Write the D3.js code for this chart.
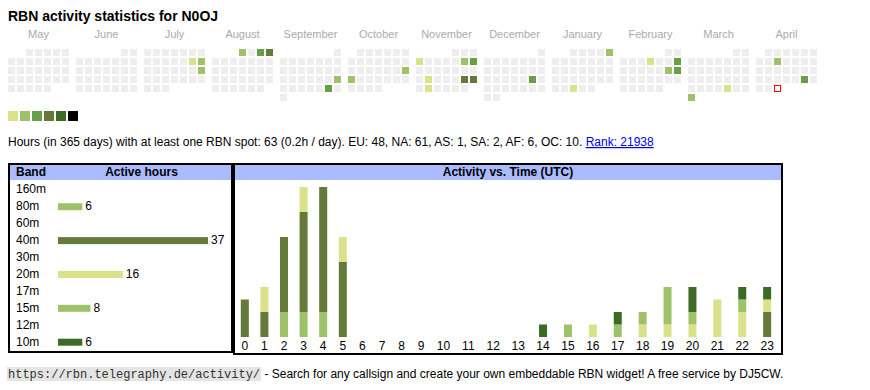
<!DOCTYPE html>
<html>
<head>
<meta charset="utf-8">
<script src="https://cdn.jsdelivr.net/npm/d3@7"></script>
<style>
  body { margin: 0; background: #fff; }
  text { font-family: "Liberation Sans", Arial, sans-serif; }
</style>
</head>
<body>
<script>
const callsign = 'N0OJ';
const monthNames = ['May', 'June', 'July', 'August', 'September', 'October',
  'November', 'December', 'January', 'February', 'March', 'April'];
const levelColors = ['#d9e28a', '#9dc26a', '#67a044', '#64793a', '#3b6b25', '#000000'];

// days with activity: [date, hours]
const activeDays = [
  ['2024-07-13', 1], ['2024-07-14', 2], ['2024-07-21', 2],
  ['2024-08-01', 2], ['2024-08-03', 3], ['2024-08-04', 4],
  ['2024-09-22', 2], ['2024-09-28', 3],
  ['2024-10-20', 2], ['2024-10-21', 2],
  ['2024-11-04', 1], ['2024-11-09', 2], ['2024-11-10', 3], ['2024-11-19', 1],
  ['2024-11-23', 4], ['2024-11-24', 4], ['2024-11-26', 1],
  ['2024-12-21', 3],
  ['2025-01-05', 2], ['2025-01-29', 1],
  ['2025-02-06', 1], ['2025-02-09', 3], ['2025-02-15', 2], ['2025-02-16', 3],
  ['2025-03-28', 1], ['2025-03-31', 2],
  ['2025-04-09', 2], ['2025-04-26', 3]
];
const firstDay = '2024-05-01';
const today = '2025-04-30';

const bands = ['160m', '80m', '60m', '40m', '30m', '20m', '17m', '15m', '12m', '10m'];
const bandHours = [0, 6, 0, 37, 0, 16, 0, 8, 0, 6];
const bandColors = ['#9dc26a', '#9dc26a', '#9dc26a', '#64793a', '#64793a', '#d9e28a',
  '#d9e28a', '#9dc26a', '#3b6b25', '#3b6b25'];

const hours = d3.range(24);
const hourly = {
  '80m': [0, 0, 2, 2, 2, 0, 0, 0, 0, 0, 0, 0, 0, 0, 0, 0, 0, 0, 0, 0, 0, 0, 0, 0],
  '40m': [3, 2, 6, 8, 10, 6, 0, 0, 0, 0, 0, 0, 0, 0, 0, 0, 0, 0, 0, 0, 0, 0, 0, 2],
  '20m': [0, 2, 0, 2, 0, 2, 0, 0, 0, 0, 0, 0, 0, 0, 0, 0, 1, 0, 1, 1, 1, 3, 2, 1],
  '15m': [0, 0, 0, 0, 0, 0, 0, 0, 0, 0, 0, 0, 0, 0, 0, 1, 0, 1, 1, 3, 1, 0, 1, 0],
  '10m': [0, 0, 0, 0, 0, 0, 0, 0, 0, 0, 0, 0, 0, 0, 1, 0, 0, 1, 0, 0, 2, 0, 1, 1]
};

const statsText = 'Hours (in 365 days) with at least one RBN spot: 63 (0.2h / day). EU: 48, NA: 61, AS: 1, SA: 2, AF: 6, OC: 10. ';
const rankText = 'Rank: 21938';
const footerUrl = 'https://rbn.telegraphy.de/activity/';
const footerText = ' - Search for any callsign and create your own embeddable RBN widget! A free service by DJ5CW.';

const width = 870;
const height = 390;

const svg = d3.select('body').append('svg')
  .attr('width', width)
  .attr('height', height);

svg.append('text')
  .attr('x', 8)
  .attr('y', 20.5)
  .style('font-size', '14px')
  .style('font-weight', 'bold')
  .text(`RBN activity statistics for ${callsign}`);

// calendar
const parse = d3.timeParse('%Y-%m-%d');
const start = parse(firstDay);
const days = d3.timeDay.range(start, d3.timeYear.offset(start, 1));
const dayLevel = new Map(activeDays.map(([d, h]) => [d, h]));
const fmt = d3.timeFormat('%Y-%m-%d');

const monthX = d3.scaleBand().domain(d3.range(12)).range([8, 8 + 12 * 68]);
const cellX = d3.scaleLinear().domain([0, 1]).range([0, 9]);
const cellY = d3.scaleLinear().domain([0, 1]).range([49, 58]);

svg.append('g').selectAll('text')
  .data(monthNames)
  .join('text')
  .attr('x', (d, i) => monthX(i) + 30.5)
  .attr('y', 38)
  .attr('text-anchor', 'middle')
  .style('font-size', '11px')
  .style('fill', '#aaa')
  .text(d => d);

const cells = days.map(d => {
  const m = (d.getFullYear() - start.getFullYear()) * 12 + d.getMonth() - start.getMonth();
  const first = new Date(d.getFullYear(), d.getMonth(), 1);
  const firstCol = (first.getDay() + 6) % 7;
  return {
    key: fmt(d),
    month: m,
    col: (d.getDay() + 6) % 7,
    row: Math.floor((d.getDate() - 1 + firstCol) / 7)
  };
});

svg.append('g').selectAll('rect')
  .data(cells)
  .join('rect')
  .attr('x', d => monthX(d.month) + cellX(d.col) + (d.key === today ? 0.5 : 0))
  .attr('y', d => cellY(d.row) + (d.key === today ? 0.5 : 0))
  .attr('width', d => d.key === today ? 6 : 7)
  .attr('height', d => d.key === today ? 6 : 7)
  .attr('fill', d => {
    if (d.key === today) return '#fff';
    const h = dayLevel.get(d.key);
    return h ? levelColors[Math.min(h, 6) - 1] : '#eeeeee';
  })
  .attr('stroke', d => d.key === today ? '#ff0000' : 'none')
  .attr('stroke-width', 1);

// legend
svg.append('g').selectAll('rect')
  .data(levelColors)
  .join('rect')
  .attr('x', (d, i) => 8 + i * 12)
  .attr('y', 111)
  .attr('width', 10)
  .attr('height', 10)
  .attr('fill', d => d);

const stats = svg.append('text')
  .attr('x', 8)
  .attr('y', 146)
  .style('font-size', '12px');
stats.append('tspan').text(statsText);
stats.append('tspan')
  .style('fill', '#0000ee')
  .style('text-decoration', 'underline')
  .text(rankText);

// band table
const left = svg.append('g');
left.append('rect')
  .attr('x', 10).attr('y', 165).attr('width', 221).attr('height', 15)
  .attr('fill', '#aabbff');
left.append('rect')
  .attr('x', 9).attr('y', 164).attr('width', 223).attr('height', 188)
  .attr('fill', 'none').attr('stroke', '#000').attr('stroke-width', 2);
left.append('text')
  .attr('x', 16).attr('y', 176)
  .style('font-size', '12px').style('font-weight', 'bold')
  .text('Band');
left.append('text')
  .attr('x', 141.5).attr('y', 176)
  .attr('text-anchor', 'middle')
  .style('font-size', '12px').style('font-weight', 'bold')
  .text('Active hours');

const rowY = d3.scalePoint().domain(bands).range([193.3, 345.7]);
const barW = d3.scaleLinear().domain([0, d3.max(bandHours)]).range([0, 150]);

left.append('g').selectAll('text')
  .data(bands)
  .join('text')
  .attr('x', 16)
  .attr('y', d => rowY(d))
  .style('font-size', '12px')
  .text(d => d);

const bandRows = bands.map((b, i) => ({ band: b, hours: bandHours[i], color: bandColors[i] }))
  .filter(d => d.hours > 0);

left.append('g').selectAll('rect')
  .data(bandRows)
  .join('rect')
  .attr('x', 58)
  .attr('y', d => rowY(d.band) - 7)
  .attr('width', d => barW(d.hours))
  .attr('height', 7)
  .attr('fill', d => d.color);

left.append('g').selectAll('text')
  .data(bandRows)
  .join('text')
  .attr('x', d => 58 + barW(d.hours) + 3)
  .attr('y', d => rowY(d.band))
  .style('font-size', '12px')
  .text(d => d.hours);

// activity vs time
const right = svg.append('g');
right.append('rect')
  .attr('x', 235).attr('y', 165).attr('width', 546).attr('height', 15)
  .attr('fill', '#aabbff');
right.append('rect')
  .attr('x', 234).attr('y', 164).attr('width', 548).attr('height', 190)
  .attr('fill', 'none').attr('stroke', '#000').attr('stroke-width', 2);
right.append('text')
  .attr('x', 508).attr('y', 176)
  .attr('text-anchor', 'middle')
  .style('font-size', '12px').style('font-weight', 'bold')
  .text('Activity vs. Time (UTC)');

// table columns: two-digit hours get wider cells
const colWidths = hours.map(h => 14.3 + 5.3 * String(h).length);
const colStarts = colWidths.map((w, i) => 235 + d3.sum(colWidths.slice(0, i)));
const x = d3.scaleOrdinal().domain(hours).range(hours.map(h => colStarts[h] + colWidths[h] / 2));

const stackKeys = bands.filter(b => hourly[b]);
const rows = hours.map(h => {
  const r = { hour: h };
  stackKeys.forEach(k => { r[k] = hourly[k][h]; });
  return r;
});
const series = d3.stack().keys(stackKeys)(rows);
const y = d3.scaleLinear()
  .domain([0, d3.max(series[series.length - 1], d => d[1])])
  .range([337, 187]);

right.append('g').selectAll('g')
  .data(series)
  .join('g')
  .attr('fill', s => bandColors[bands.indexOf(s.key)])
  .selectAll('rect')
  .data(s => s.filter(d => d[1] > d[0]))
  .join('rect')
  .attr('x', d => x(d.data.hour) - 4)
  .attr('y', d => y(d[1]))
  .attr('width', 8)
  .attr('height', d => y(d[0]) - y(d[1]));

right.append('g').selectAll('text')
  .data(hours)
  .join('text')
  .attr('x', d => x(d))
  .attr('y', 350)
  .attr('text-anchor', 'middle')
  .style('font-size', '12px')
  .text(d => d);

// footer
const footer = svg.append('g');
const urlBg = footer.append('rect')
  .attr('y', 367)
  .attr('height', 14)
  .attr('fill', '#e4e4e4');
const url = footer.append('text')
  .attr('x', 8)
  .attr('y', 378)
  .style('font-family', '"Liberation Mono", "Courier New", monospace')
  .style('font-size', '12px')
  .style('fill', '#333')
  .text(footerUrl);
const box = url.node().getBBox();
urlBg
  .attr('x', box.x - 1)
  .attr('width', box.width + 2);
footer.append('text')
  .attr('x', box.x + box.width + 1)
  .attr('y', 378)
  .style('font-size', '12px')
  .style('white-space', 'pre')
  .text(footerText);
</script>
</body>
</html>
